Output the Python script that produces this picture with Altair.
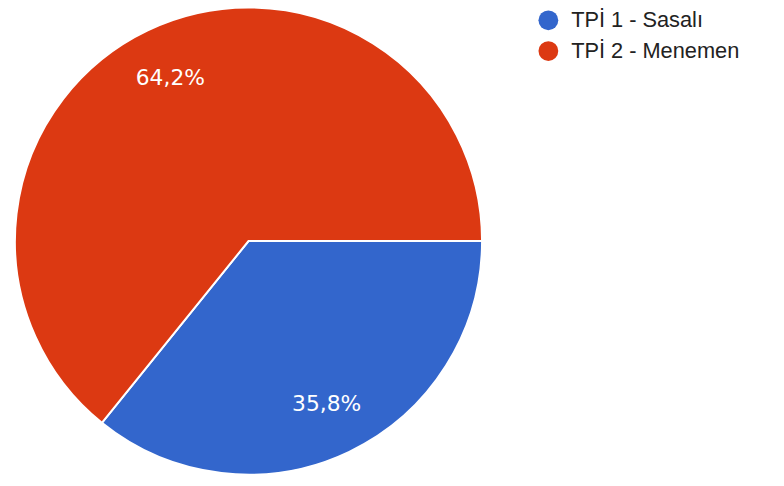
import math
import altair as alt
import pandas as pd

categories = ["TPİ 1 - Sasalı", "TPİ 2 - Menemen"]
values = [35.8, 64.2]
labels = ["35,8%", "64,2%"]
colors = ["#3366CC", "#DC3912"]

df = pd.DataFrame({"cat": categories, "val": values, "label": labels, "ord": [0, 1]})

cx, cy, R = 243, 233, 236
theta_scale = alt.Scale(range=[math.pi / 2, math.pi / 2 + 2 * math.pi])

base = alt.Chart(df).encode(
    theta=alt.Theta("val:Q", stack=True, scale=theta_scale),
    order=alt.Order("ord:Q"),
)

arcs = base.mark_arc(x=cx, y=cy, outerRadius=R, stroke="white", strokeWidth=2).encode(
    color=alt.Color(
        "cat:N",
        scale=alt.Scale(domain=categories, range=colors),
        legend=alt.Legend(
            title=None,
            orient="none",
            legendX=535,
            legendY=-1,
            symbolType="circle",
            symbolSize=400,
            symbolStrokeWidth=0,
            labelFontSize=22,
            labelFont="Liberation Sans",
            labelColor="#222222",
            labelLimit=400,
            rowPadding=9,
            labelOffset=12,
        ),
    )
)

text = base.mark_text(
    x=cx, y=cy, radius=183, fontSize=22, font="DejaVu Sans", color="white"
).encode(text="label:N")

chart = (
    alt.layer(arcs, text)
    .properties(width=776, height=478, autosize=alt.AutoSizeParams(type="none"), padding=0)
    .configure_view(stroke=None)
)

chart.save("out.html", embed_options={"renderer": "svg", "actions": False})
